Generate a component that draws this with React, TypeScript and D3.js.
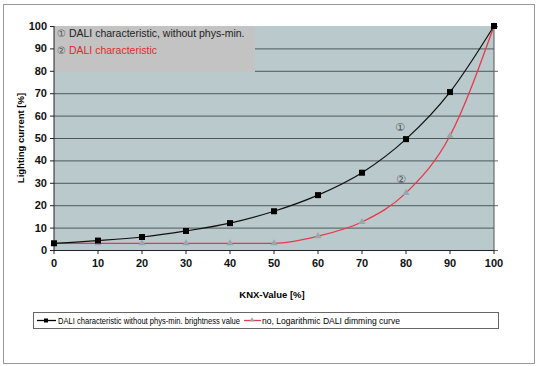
import React, { useEffect, useRef } from "react";
import * as d3 from "d3";

const knx = [0, 10, 20, 30, 40, 50, 60, 70, 80, 90, 100];
const withoutPhysMin = [3, 4.2, 5.8, 8.5, 12, 17.3, 24.5, 34.5, 49.5, 70.5, 100];
const logarithmic = [3, 3, 3, 3, 3, 3, 6.2, 12.5, 25.5, 51, 100];
const yTicks = [0, 10, 20, 30, 40, 50, 60, 70, 80, 90, 100];
const rightTicks = [0, 20, 40, 60, 80, 100];
const seriesNames = [
  "DALI characteristic without phys-min. brightness value",
  "no, Logarithmic DALI dimming curve",
];

export default function App() {
  const ref = useRef<SVGSVGElement>(null);

  useEffect(() => {
    const svg = d3.select(ref.current);
    svg.selectAll("*").remove();

    const font = "Liberation Sans, Arial, sans-serif";
    const circFont = "DejaVu Sans, sans-serif";
    const x = d3.scaleLinear().domain([0, 100]).range([54, 494]);
    const y = d3.scaleLinear().domain([0, 100]).range([250, 26]);

    // outer frame
    svg.append("rect").attr("x", 3.5).attr("y", 4.5).attr("width", 531).attr("height", 359)
      .attr("fill", "#fff").attr("stroke", "#999").attr("stroke-width", 1);

    // plot area
    svg.append("rect").attr("x", x(0)).attr("y", y(100)).attr("width", x(100) - x(0))
      .attr("height", y(0) - y(100)).attr("fill", "#b9c9cc");

    // gridlines
    svg.append("g").selectAll("line").data(yTicks.slice(1, -1)).join("line")
      .attr("x1", x(0)).attr("x2", x(100))
      .attr("y1", (d) => y(d) + 0.5).attr("y2", (d) => y(d) + 0.5)
      .attr("stroke", "#4e5a5c").attr("stroke-width", 1);

    // annotation box
    svg.append("rect").attr("x", x(0)).attr("y", y(100)).attr("width", 201).attr("height", 46)
      .attr("fill", "#c3c3c3");
    const t1 = svg.append("text").attr("x", 57).attr("y", 37).attr("font-family", font).attr("font-size", 10.5);
    t1.append("tspan").attr("font-family", circFont).attr("fill", "#555").attr("font-size", 10).text("\u2460");
    t1.append("tspan").attr("fill", "#222").text(" DALI characteristic, without phys-min.");
    const t2 = svg.append("text").attr("x", 57).attr("y", 54).attr("font-family", font).attr("font-size", 10.5);
    t2.append("tspan").attr("font-family", circFont).attr("fill", "#555").attr("font-size", 10).text("\u2461");
    t2.append("tspan").attr("fill", "#e3262e").text(" DALI characteristic");

    // axes
    const axisG = svg.append("g").attr("stroke", "#222");
    axisG.append("line").attr("x1", x(0)).attr("x2", x(0)).attr("y1", y(100)).attr("y2", y(0));
    axisG.append("line").attr("x1", x(0)).attr("x2", x(100)).attr("y1", y(0) + 0.5).attr("y2", y(0) + 0.5);
    axisG.append("line").attr("x1", x(100)).attr("x2", x(100)).attr("y1", y(100)).attr("y2", y(0)).attr("stroke", "#555");
    axisG.selectAll(".yt").data(yTicks).join("line")
      .attr("x1", x(0) - 4).attr("x2", x(0)).attr("y1", (d) => y(d) + 0.5).attr("y2", (d) => y(d) + 0.5);
    axisG.selectAll(".rt").data(rightTicks).join("line")
      .attr("x1", x(100)).attr("x2", x(100) + 4).attr("y1", (d) => y(d) + 0.5).attr("y2", (d) => y(d) + 0.5)
      .attr("stroke", "#666");
    axisG.selectAll(".xt").data(knx).join("line")
      .attr("x1", (d) => x(d)).attr("x2", (d) => x(d)).attr("y1", y(0)).attr("y2", y(0) + 4);

    svg.append("g").selectAll("text").data(yTicks).join("text")
      .attr("x", x(0) - 7).attr("y", (d) => y(d) + 4).attr("text-anchor", "end")
      .attr("font-family", font).attr("font-size", 11).attr("font-weight", "bold").attr("fill", "#111")
      .text((d) => d);
    svg.append("g").selectAll("text").data(knx).join("text")
      .attr("x", (d) => x(d)).attr("y", y(0) + 17).attr("text-anchor", "middle")
      .attr("font-family", font).attr("font-size", 11).attr("font-weight", "bold").attr("fill", "#111")
      .text((d) => d);

    svg.append("text").attr("x", 272).attr("y", 298).attr("text-anchor", "middle")
      .attr("font-family", font).attr("font-size", 9.5).attr("font-weight", "bold").text("KNX-Value [%]");
    svg.append("text").attr("transform", `translate(24,${(y(0) + y(100)) / 2}) rotate(-90)`)
      .attr("text-anchor", "middle").attr("font-family", font).attr("font-size", 9.5)
      .attr("font-weight", "bold").text("Lighting current [%]");

    // lines
    const line = d3.line<number>().x((_, i) => x(knx[i])).y((d) => y(d)).curve(d3.curveMonotoneX);
    svg.append("path").datum(logarithmic).attr("d", line).attr("fill", "none")
      .attr("stroke", "#e8394a").attr("stroke-width", 1.3);
    svg.append("path").datum(withoutPhysMin).attr("d", line).attr("fill", "none")
      .attr("stroke", "#111").attr("stroke-width", 1.2);

    const tri = d3.symbol().type(d3.symbolTriangle).size(22);
    svg.append("g").selectAll("path").data(logarithmic).join("path")
      .attr("d", tri).attr("transform", (d, i) => `translate(${x(knx[i])},${y(d)})`)
      .attr("fill", "#98a8aa");
    svg.append("g").selectAll("rect").data(withoutPhysMin).join("rect")
      .attr("x", (d, i) => x(knx[i]) - 3).attr("y", (d) => y(d) - 3)
      .attr("width", 6).attr("height", 6).attr("fill", "#000");

    // circled labels
    svg.append("text").attr("x", 400).attr("y", 131).attr("text-anchor", "middle")
      .attr("font-family", circFont).attr("font-size", 11).attr("fill", "#555").text("\u2460");
    svg.append("text").attr("x", 401).attr("y", 183).attr("text-anchor", "middle")
      .attr("font-family", circFont).attr("font-size", 11).attr("fill", "#555").text("\u2461");

    // legend
    const lg = svg.append("g");
    lg.append("rect").attr("x", 33.5).attr("y", 312.5).attr("width", 465).attr("height", 16)
      .attr("fill", "#fff").attr("stroke", "#666");
    lg.append("line").attr("x1", 37).attr("x2", 56).attr("y1", 320.5).attr("y2", 320.5).attr("stroke", "#000").attr("stroke-width", 1.3);
    lg.append("rect").attr("x", 44).attr("y", 318.5).attr("width", 4).attr("height", 4).attr("fill", "#000");
    lg.append("text").attr("x", 58).attr("y", 324).attr("font-family", font).attr("font-size", 8.6)
      .attr("textLength", 182).attr("lengthAdjust", "spacingAndGlyphs").text(seriesNames[0]);
    lg.append("line").attr("x1", 244).attr("x2", 261).attr("y1", 320.5).attr("y2", 320.5).attr("stroke", "#e8394a").attr("stroke-width", 1.3);
    lg.append("path").attr("d", d3.symbol().type(d3.symbolTriangle).size(10)).attr("transform", "translate(252,320)").attr("fill", "#98a8aa");
    lg.append("text").attr("x", 262).attr("y", 324).attr("font-family", font).attr("font-size", 8.6)
      .attr("textLength", 138).attr("lengthAdjust", "spacingAndGlyphs").text(seriesNames[1]);
  }, []);

  return (
    <svg ref={ref} width={543} height={366} style={{ position: "absolute", left: 0, top: 0 }} />
  );
}
